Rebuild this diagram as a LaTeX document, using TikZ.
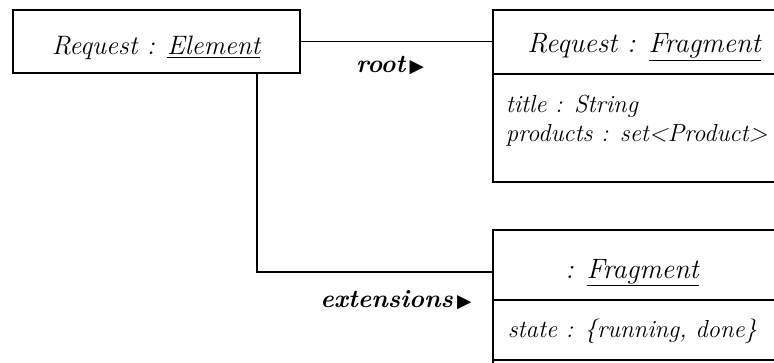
\documentclass[tikz,border=0pt]{standalone}
\usepackage{fontspec}
\newfontfamily\symfont{DejaVu Sans}
\usetikzlibrary{calc}
\newcommand\tri{{\symfont\fontsize{14}{14}\selectfont ▶}}
\begin{document}
\begin{tikzpicture}[x=0.75pt,y=-0.75pt, line width=1.2pt,
  box/.style={draw, rectangle, inner sep=0pt, line width=1.2pt},
  ttl/.style={font=\fontsize{21}{24}\selectfont\itshape, anchor=base, inner sep=0pt},
  attr/.style={font=\fontsize{18.5}{21}\selectfont\itshape, anchor=base west, inner sep=0pt},
  lbl/.style={font=\fontsize{19}{22}\selectfont\bfseries\itshape, anchor=base, inner sep=0pt}]
\useasboundingbox (0,0) rectangle (774,363);
\clip (0,0) rectangle (774,363);
% boxes
\node[box, minimum width=215.25pt, minimum height=47.25pt] (e1) at (156.5,41.5) {};
\node[box, minimum width=226.5pt, minimum height=129pt] (f1) at (644,96) {};
\node[box, minimum width=226.5pt, minimum height=142.5pt] (f2) at (644,325) {};
% separators
\coordinate (s1) at (0,74);
\draw (f1.west |- s1) -- (f1.east |- s1);
\coordinate (s2) at (0,300);
\coordinate (s3) at (0,360);
\draw (f2.west |- s2) -- (f2.east |- s2);
\draw (f2.west |- s3) -- (f2.east |- s3);
% texts
\node[ttl, font=\fontsize{20}{23}\selectfont\itshape] (t1) at (156,55) {Request : \underline{Element}};
\node[ttl] (t2) at (644,53) {Request : \underline{Fragment}};
\node[attr] (a1) at (505,113) {title : String};
\node[attr] (a2) at (505,142) {products : set<Product>};
\node[ttl] (t3) at (632,278) {: \underline{Fragment}};
\node[attr] (a3) at (507,337) {state : \{running, done\}};
% connectors
\draw (e1.east) -- (e1.east -| f1.west);
\node[lbl] (l1) at (390,73) {root\,\tri};
\coordinate (k) at (257,272);
\draw (e1.south -| k) -- (k) -- (k -| f2.west);
\node[lbl] (l2) at (396,307) {extensions\,\tri};
\end{tikzpicture}
\end{document}
